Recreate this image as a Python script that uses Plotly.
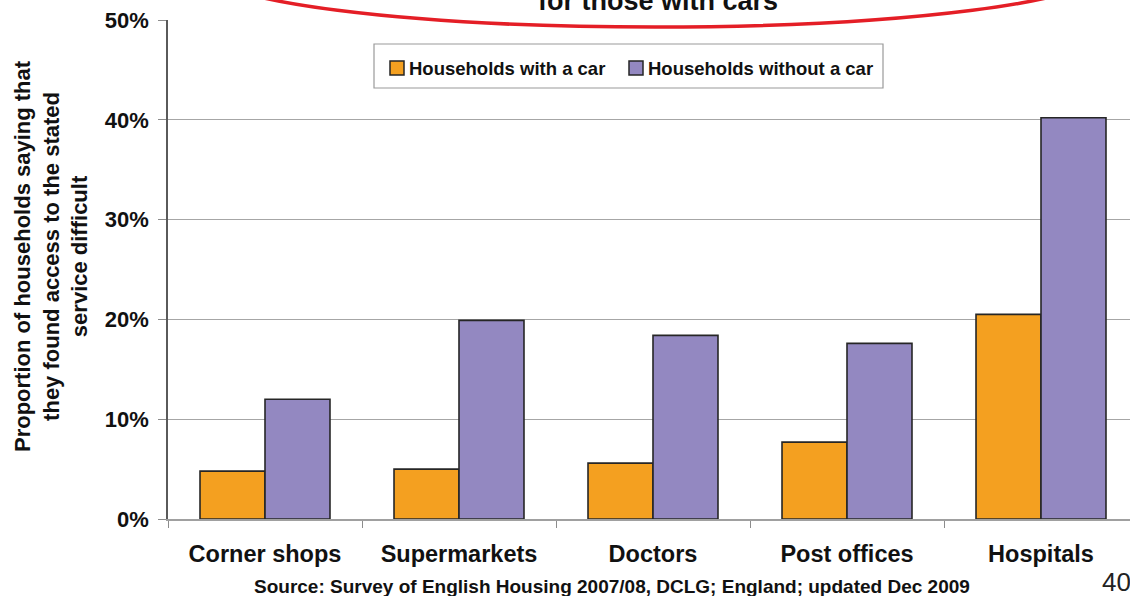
import plotly.graph_objects as go

categories = ["Corner shops", "Supermarkets", "Doctors", "Post offices", "Hospitals"]
with_car = [4.8, 5.0, 5.6, 7.7, 20.5]
without_car = [12.0, 19.9, 18.4, 17.6, 40.2]
series_names = ["Households with a car", "Households without a car"]
y_ticks = [0, 10, 20, 30, 40, 50]
y_tick_labels = ["0%", "10%", "20%", "30%", "40%", "50%"]
y_title = "Proportion of households saying that<br>they found access to the stated<br>service difficult"
source_text = "Source: Survey of English Housing 2007/08, DCLG; England; updated Dec 2009"
title_text = "for those with cars"
page_number = "40"

W, H = 1130, 596
L, R, T, B = 168, 0, 20, 77
PW, PH = W - L - R, H - T - B
CAT_PX = 194.0

ORANGE = "#F4A020"
PURPLE = "#9388C1"
FONT = "Arial, Liberation Sans, sans-serif"


def px(x):
    return (x - L) / PW


def py(y):
    return (H - B - y) / PH


fig = go.Figure()
fig.add_trace(go.Bar(x=categories, y=with_car, name=series_names[0],
                     marker=dict(color=ORANGE, line=dict(color="#262626", width=1.6)),
                     showlegend=False))
fig.add_trace(go.Bar(x=categories, y=without_car, name=series_names[1],
                     marker=dict(color=PURPLE, line=dict(color="#262626", width=1.6)),
                     showlegend=False))

fig.update_layout(
    width=W, height=H,
    margin=dict(l=L, r=R, t=T, b=B, pad=0),
    paper_bgcolor="white", plot_bgcolor="white",
    barmode="group", bargap=0.33, bargroupgap=0,
    font=dict(family=FONT, color="#111111"),
)

fig.update_xaxes(
    type="category", range=[-0.5, -0.5 + PW / CAT_PX],
    tickson="boundaries", ticks="outside", ticklen=7, tickcolor="#8c8c8c", tickwidth=1,
    showline=True, linecolor="#a0a0a0", linewidth=1.5,
    showgrid=False, tickfont=dict(size=23.5, weight="bold", color="#111111"),
    ticklabelstandoff=13,
)
fig.update_yaxes(
    range=[0, 50], tickvals=y_ticks, ticktext=y_tick_labels,
    ticks="outside", ticklen=8, tickcolor="#8c8c8c", tickwidth=1,
    showline=True, linecolor="#5a5a5a", linewidth=1.5,
    showgrid=True, gridcolor="#a6a6a6", gridwidth=1, zeroline=False,
    tickfont=dict(size=22, weight="bold", color="#111111"),
    ticklabelstandoff=5,
)

# y-axis title (three lines)
fig.add_annotation(xref="paper", yref="paper", x=px(51), y=py(256), text=y_title,
                   textangle=-90, showarrow=False, xanchor="center", yanchor="middle",
                   font=dict(size=22, weight="bold", color="#111111"), align="center")

# legend box
fig.add_shape(type="rect", xref="paper", yref="paper",
              x0=px(374), x1=px(883), y0=py(88), y1=py(44),
              line=dict(color="#9a9a9a", width=1.2), fillcolor="white", layer="above")
legend_items = [(390, 407, ORANGE, series_names[0]), (629, 646, PURPLE, series_names[1])]
for sx, tx, col, name in legend_items:
    fig.add_shape(type="rect", xref="paper", yref="paper",
                  x0=px(sx), x1=px(sx + 14), y0=py(75), y1=py(61),
                  line=dict(color="#262626", width=1.5), fillcolor=col, layer="above")
    fig.add_annotation(xref="paper", yref="paper", x=px(tx), y=py(68), text=name,
                       showarrow=False, xanchor="left", yanchor="middle",
                       font=dict(size=18.5, weight="bold", color="#111111"))

# cropped slide title and red ellipse
fig.add_annotation(xref="paper", yref="paper", x=px(658), y=py(18), text=title_text,
                   showarrow=False, xanchor="center", yanchor="bottom",
                   font=dict(size=27, weight="bold", color="#111111"))
fig.add_shape(type="circle", xref="paper", yref="paper",
              x0=px(206), x1=px(1104), y0=py(27), y1=py(-87),
              line=dict(color="#E41E26", width=3.5), layer="above")

# source
fig.add_annotation(xref="paper", yref="paper", x=px(612), y=py(586), text=source_text,
                   showarrow=False, xanchor="center", yanchor="middle",
                   font=dict(size=19, weight="bold", color="#111111"))
# page number
fig.add_annotation(xref="paper", yref="paper", x=px(1100), y=py(582), text=page_number,
                   showarrow=False, xanchor="left", yanchor="middle",
                   font=dict(size=26, color="#222222"))

fig.write_html("out.html")
